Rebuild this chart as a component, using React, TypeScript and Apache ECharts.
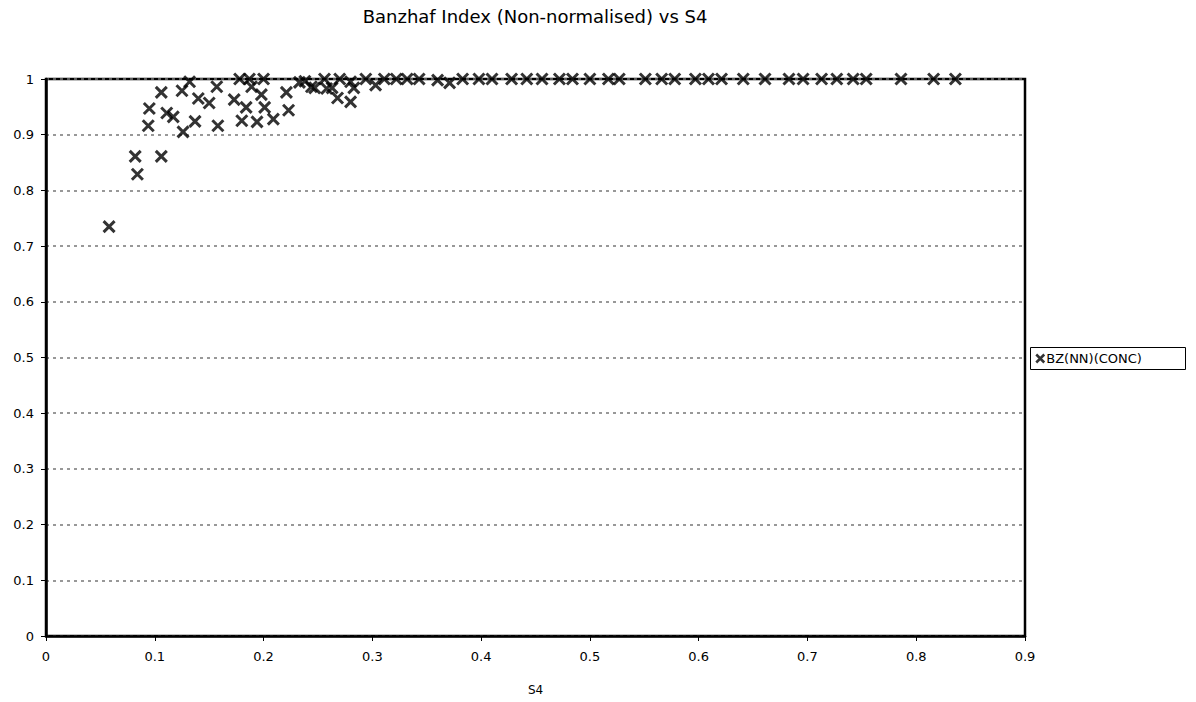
import React, { useEffect, useRef } from "react";
import * as echarts from "echarts";

const titleText = "Banzhaf Index (Non-normalised) vs S4";
const seriesName = "BZ(NN)(CONC)";
const xAxisName = "S4";

// S4 values
const s4 = [
  0.058, 0.082, 0.084, 0.106, 0.094, 0.095, 0.106, 0.117, 0.125, 0.126,
  0.137, 0.140, 0.157, 0.158, 0.173, 0.184, 0.189, 0.198, 0.194, 0.209,
  0.201, 0.221, 0.223, 0.180, 0.178, 0.200, 0.187, 0.150, 0.132, 0.233,
  0.111, 0.244, 0.258, 0.270, 0.280, 0.268, 0.280, 0.294, 0.303, 0.322,
  0.332, 0.343, 0.360, 0.371, 0.383, 0.398, 0.410, 0.428, 0.442, 0.456,
  0.247, 0.263, 0.238, 0.256, 0.311, 0.283,
  0.472, 0.484, 0.500, 0.517, 0.527, 0.551, 0.566, 0.578, 0.597, 0.609,
  0.621, 0.641, 0.661, 0.683, 0.696, 0.713, 0.727, 0.742, 0.754, 0.786,
  0.816, 0.836,
];

// Banzhaf index (non-normalised) values
const bz = [
  0.735, 0.861, 0.829, 0.861, 0.916, 0.947, 0.976, 0.932, 0.979, 0.905,
  0.924, 0.965, 0.986, 0.916, 0.963, 0.949, 0.986, 0.972, 0.923, 0.928,
  0.949, 0.976, 0.944, 0.925, 1.0, 1.0, 1.0, 0.957, 0.995, 0.994,
  0.939, 0.986, 0.983, 1.0, 0.995, 0.966, 0.959, 1.0, 0.989, 1.0,
  1.0, 1.0, 0.998, 0.993, 1.0, 1.0, 1.0, 1.0, 1.0, 1.0,
  0.984, 0.984, 0.996, 1.0, 1.0, 0.984,
  1.0, 1.0, 1.0, 1.0, 1.0, 1.0, 1.0, 1.0, 1.0, 1.0,
  1.0, 1.0, 1.0, 1.0, 1.0, 1.0, 1.0, 1.0, 1.0, 1.0,
  1.0, 1.0,
];

const xTicks = [0, 0.1, 0.2, 0.3, 0.4, 0.5, 0.6, 0.7, 0.8, 0.9];
const yTicks = [0, 0.1, 0.2, 0.3, 0.4, 0.5, 0.6, 0.7, 0.8, 0.9, 1];

const FONT = "'DejaVu Sans', Verdana, sans-serif";
const XSYM = "path://M0,0L10,10M10,0L0,10";

export default function App() {
  const ref = useRef<HTMLDivElement>(null);
  useEffect(() => {
    if (!ref.current) return;
    const chart = echarts.init(ref.current, undefined, { renderer: "svg" });
    const data = s4.map((x, i) => [x, bz[i]]);
    chart.setOption({
      animation: false,
      backgroundColor: "#fff",
      graphic: [
        {
          type: "text",
          x: 535,
          y: 7,
          style: {
            text: titleText,
            fill: "#000",
            font: `18px ${FONT}`,
            textAlign: "center",
            textVerticalAlign: "top",
          },
        },
        {
          type: "rect",
          shape: { x: 1030.5, y: 347.5, width: 155, height: 22 },
          style: { fill: "#fff", stroke: "#000", lineWidth: 1 },
          z: 0,
        },
      ],
      legend: {
        orient: "vertical",
        left: 1033,
        top: 350,
        padding: [2, 2, 2, 2],
        itemWidth: 8,
        itemHeight: 8,
        itemGap: 4,
        z: 10,
        textStyle: { fontFamily: FONT, fontSize: 13, color: "#000", padding: [0, 0, 0, -3] },
        data: [
          {
            name: seriesName,
            icon: XSYM,
            itemStyle: { color: "rgba(0,0,0,0)", borderColor: "#000", borderWidth: 2.5 },
          },
        ],
      },
      grid: {
        left: 46,
        top: 79,
        right: 171,
        bottom: 66,
        show: true,
        borderColor: "#000",
        borderWidth: 2.5,
        backgroundColor: "#fff",
      },
      xAxis: {
        type: "value",
        min: 0,
        max: 0.9,
        interval: 0.1,
        name: xAxisName,
        nameLocation: "middle",
        nameGap: 48,
        nameTextStyle: { fontFamily: FONT, fontSize: 12, color: "#000" },
        axisLine: { show: true, lineStyle: { color: "#000", width: 2.5 } },
        axisTick: { show: true, length: 5, lineStyle: { color: "#000", width: 1 } },
        axisLabel: {
          fontFamily: FONT,
          fontSize: 13,
          color: "#000",
          margin: 14,
          formatter: (v: number) => {
            const t = xTicks.find((k) => Math.abs(k - v) < 1e-9);
            return String(t !== undefined ? t : v);
          },
        },
        splitLine: { show: false },
      },
      yAxis: {
        type: "value",
        min: 0,
        max: 1,
        interval: 0.1,
        axisLine: { show: true, lineStyle: { color: "#000", width: 2.5 } },
        axisTick: { show: true, length: 5, lineStyle: { color: "#000", width: 1 } },
        axisLabel: {
          fontFamily: FONT,
          fontSize: 13,
          color: "#000",
          margin: 12,
          formatter: (v: number) => {
            const t = yTicks.find((k) => Math.abs(k - v) < 1e-9);
            return String(t !== undefined ? t : v);
          },
        },
        splitLine: { show: true, lineStyle: { color: "#777", width: 1.5, type: [3, 4] } },
      },
      series: [
        {
          name: seriesName,
          type: "scatter",
          data,
          symbol: XSYM,
          symbolSize: 11,
          itemStyle: { color: "rgba(0,0,0,0)", borderColor: "#000", borderWidth: 3 },
          emphasis: { disabled: true },
        },
      ],
    });
    return () => chart.dispose();
  }, []);
  return (
    <div
      ref={ref}
      style={{ position: "fixed", left: 0, top: 0, width: 1196, height: 702, background: "#fff" }}
    />
  );
}
